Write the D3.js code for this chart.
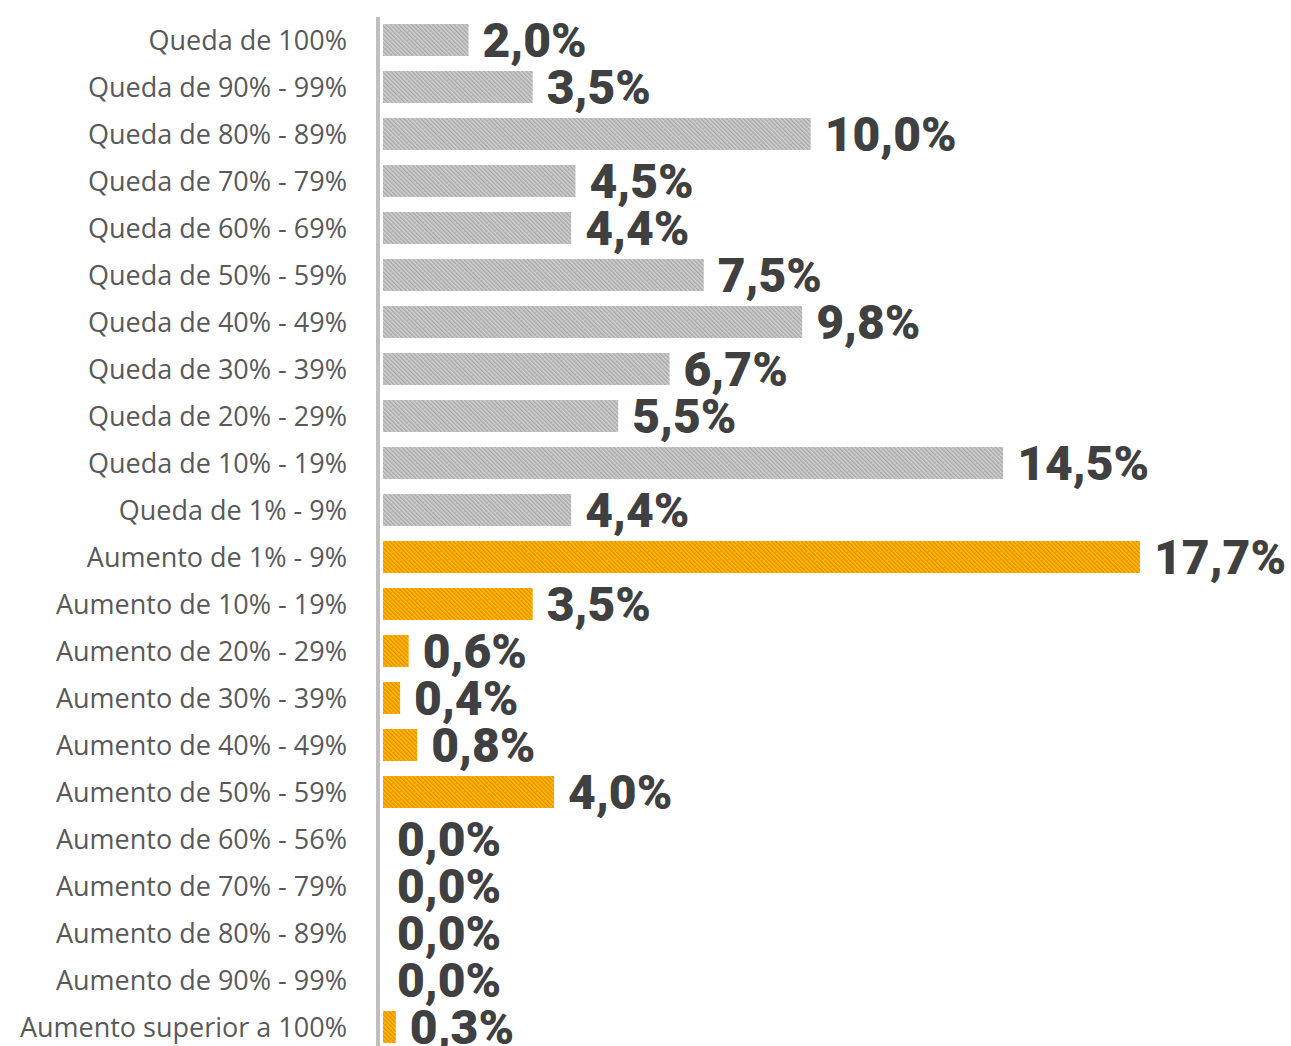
<!DOCTYPE html>
<html lang="pt">
<head>
<meta charset="UTF-8">
<title>Variação</title>
<script src="https://d3js.org/d3.v7.min.js"></script>
<style>
  body { margin: 0; background: #fff; }
  .cat { font-family: "Open Sans", sans-serif; font-size: 27px; fill: #595959; }
  .val { font-family: Roboto, sans-serif; font-weight: 900; font-size: 48px; fill: #404040; }
</style>
</head>
<body>
<div id="chart"></div>
<script>
// categories and values (percent)
const categories = [
  "Queda de 100%", "Queda de 90% - 99%", "Queda de 80% - 89%", "Queda de 70% - 79%",
  "Queda de 60% - 69%", "Queda de 50% - 59%", "Queda de 40% - 49%", "Queda de 30% - 39%",
  "Queda de 20% - 29%", "Queda de 10% - 19%", "Queda de 1% - 9%",
  "Aumento de 1% - 9%", "Aumento de 10% - 19%", "Aumento de 20% - 29%", "Aumento de 30% - 39%",
  "Aumento de 40% - 49%", "Aumento de 50% - 59%", "Aumento de 60% - 56%", "Aumento de 70% - 79%",
  "Aumento de 80% - 89%", "Aumento de 90% - 99%", "Aumento superior a 100%"
];
const values = [2.0, 3.5, 10.0, 4.5, 4.4, 7.5, 9.8, 6.7, 5.5, 14.5, 4.4,
                17.7, 3.5, 0.6, 0.4, 0.8, 4.0, 0.0, 0.0, 0.0, 0.0, 0.3];
const groups = categories.map(c => c.startsWith("Queda") ? "queda" : "aumento");

const width = 1291, height = 1046;
const x0 = 383;

const svg = d3.select("#chart").append("svg")
  .attr("width", width).attr("height", height);

// hatch patterns
const defs = svg.append("defs");
function hatch(id, bg, fg) {
  const p = defs.append("pattern")
    .attr("id", id)
    .attr("patternUnits", "userSpaceOnUse")
    .attr("width", 3).attr("height", 3)
    .attr("patternTransform", "rotate(-45)");
  p.append("rect").attr("width", 3).attr("height", 3).attr("fill", bg);
  p.append("rect").attr("width", 1.4).attr("height", 3).attr("fill", fg);
}
hatch("h-queda", "#d0d0d0", "#a8a8a8");
hatch("h-aumento", "#ffc000", "#e98a00");

const x = d3.scaleLinear().domain([0, 17.7]).range([x0, 1140]);
const y = d3.scaleBand().domain(categories).range([16.5, 1050.5]).paddingInner(0.32).paddingOuter(0.16);

// bars
svg.selectAll("rect.bar")
  .data(values)
  .enter().append("rect")
  .attr("class", "bar")
  .attr("x", x(0))
  .attr("y", (d, i) => y(categories[i]))
  .attr("width", d => x(d) - x(0))
  .attr("height", y.bandwidth())
  .attr("fill", (d, i) => "url(#h-" + groups[i] + ")");

// axis line
svg.append("line")
  .attr("x1", 378).attr("x2", 378)
  .attr("y1", 17).attr("y2", height)
  .attr("stroke", "#bfbfbf").attr("stroke-width", 4);

// category labels
svg.selectAll("text.cat")
  .data(categories)
  .enter().append("text")
  .attr("class", "cat")
  .attr("x", 347)
  .attr("y", d => y(d) + y.bandwidth() / 2)
  .attr("dy", "0.36em")
  .attr("text-anchor", "end")
  .text(d => d);

// value labels
const fmt = v => v.toFixed(1).replace(".", ",") + "%";
svg.selectAll("text.val")
  .data(values)
  .enter().append("text")
  .attr("class", "val")
  .attr("x", d => x(d) + 14)
  .attr("y", (d, i) => y(categories[i]) + y.bandwidth() / 2)
  .attr("dy", "0.36em")
  .text(fmt);
</script>
</body>
</html>
